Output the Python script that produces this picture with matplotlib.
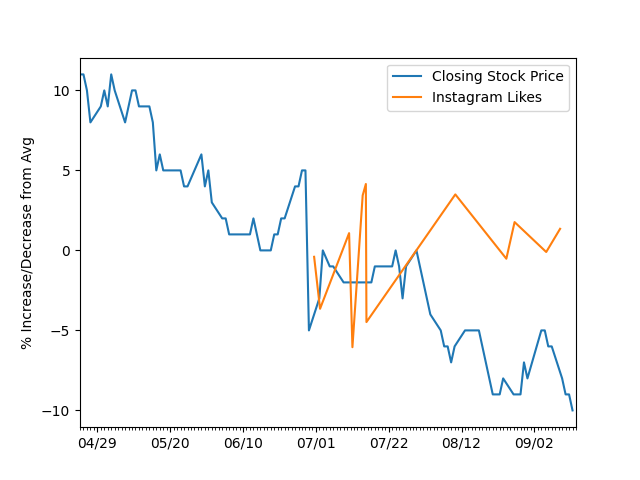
import matplotlib
matplotlib.use('Agg')
import matplotlib.pyplot as plt
import matplotlib.dates as mdates
import pandas as pd

# trading days 2018-04-24 .. 2018-09-13 (market holidays removed)
holidays = ['2018-05-28', '2018-07-04', '2018-09-03']
stock_dates = pd.bdate_range('2018-04-24', '2018-09-13')
stock_dates = stock_dates[~stock_dates.isin(pd.to_datetime(holidays))]

stock_pct = [
    11, 11, 10, 8,
    9, 10, 9, 11, 10,
    8, 9, 10, 10, 9,
    9, 8, 5, 6, 5,
    5, 5, 5, 4, 4,
    6, 4, 5, 3,
    2, 2, 1, 1, 1,
    1, 1, 2, 1, 0,
    0, 1, 1, 2, 2,
    4, 4, 5, 5, -5,
    -3, 0, -1, -1,
    -2, -2, -2, -2, -2,
    -2, -2, -1, -1, -1,
    -1, 0, -1, -3, -1,
    0, -1, -2, -3, -4,
    -5, -6, -6, -7, -6,
    -5, -5, -5, -5, -5,
    -8, -9, -9, -9, -8,
    -9, -9, -9, -7, -8,
    -5, -5, -6, -6,
    -8, -9, -9, -10,
]

insta_dates = pd.to_datetime([
    '2018-06-30 12:00', '2018-07-02 05:00', '2018-07-10 14:00',
    '2018-07-11 13:00', '2018-07-14 12:00', '2018-07-15 10:00',
    '2018-07-15 14:00', '2018-08-10 05:00', '2018-08-24 22:00',
    '2018-08-27 07:00', '2018-09-05 10:00', '2018-09-09 10:00',
])
insta_pct = [-0.4, -3.65, 1.08, -6.05, 3.44, 4.15, -4.48, 3.5,
             -0.52, 1.77, -0.1, 1.35]

fig, ax = plt.subplots(figsize=(6.4, 4.8), dpi=100)
ax.plot(stock_dates, stock_pct, label='Closing Stock Price')
ax.plot(insta_dates, insta_pct, label='Instagram Likes')

ax.set_xlim(pd.Timestamp('2018-04-24'), pd.Timestamp('2018-09-14'))
ax.set_xticks(pd.date_range('2018-04-29', periods=7, freq='21D'))
ax.xaxis.set_major_formatter(mdates.DateFormatter('%m/%d'))
ax.xaxis.set_minor_locator(mdates.DayLocator())
ax.set_ylabel('% Increase/Decrease from Avg')
ax.legend(loc='upper right')

plt.savefig('out.png')
